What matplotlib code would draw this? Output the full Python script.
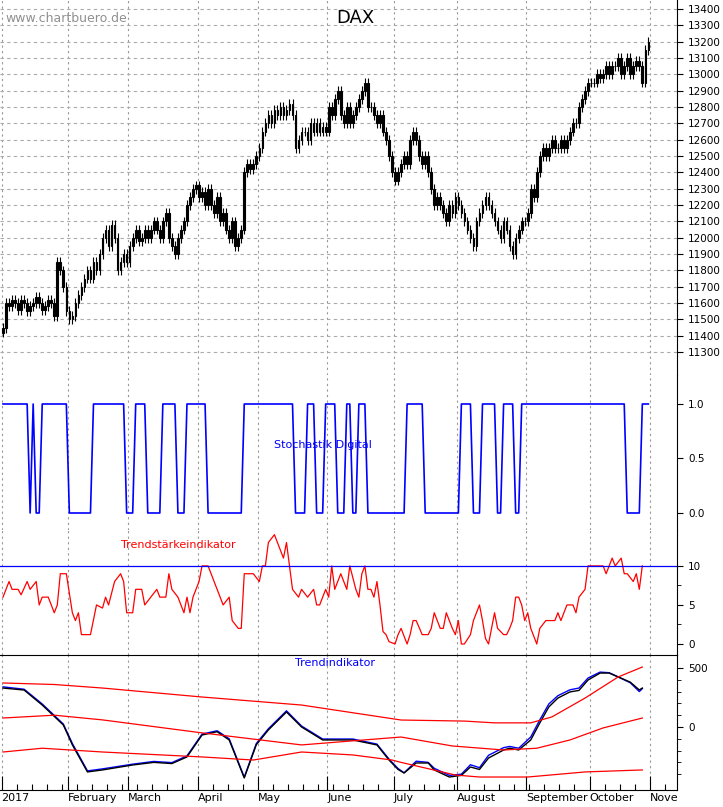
import numpy as np
import pandas as pd
import matplotlib
matplotlib.use('Agg')
import matplotlib.pyplot as plt

# DAX closes per month, 2017
jan = [11450,11600,11580,11620,11600,11560,11620,11600,11550,11580,11600,11640,11600,11560,11580,11620,11600,11520,11850,11800,11700,11550]
feb = [11500,11520,11600,11650,11700,11750,11800,11750,11850,11800,11900,12000,12050,11950,12080,12000,11800,11850,11900,11850]
mar = [11950,12000,12050,11980,12000,12050,12000,12050,12100,12050,12000,12100,12150,12000,11950,11900,12000,12050,12100,12200,12250,12300,12320]
apr = [12250,12280,12200,12300,12200,12150,12250,12100,12150,12050,12000,12100,11950,12000,12050,12400,12450,12420,12450,12500]
may = [12550,12650,12700,12750,12700,12780,12750,12800,12750,12780,12820,12750,12550,12600,12650,12650,12600,12700,12650,12700,12650,12680,12650]
jun = [12800,12750,12850,12900,12750,12700,12800,12700,12750,12800,12850,12900,12950,12800,12800,12750,12700,12750,12650,12600,12500,12400]
jul = [12350,12400,12450,12500,12450,12600,12650,12600,12500,12450,12500,12400,12300,12200,12250,12200,12150,12100,12200,12150,12250]
aug = [12200,12150,12100,12050,12000,11950,12100,12150,12200,12250,12200,12150,12100,12050,12000,12100,12050,11950,11900,12000,12050,12100,12100]
sep = [12150,12300,12250,12400,12500,12550,12500,12550,12600,12550,12550,12600,12550,12600,12650,12700,12700,12800,12850,12900,12950]
oct_ = [12950,12950,13000,12980,13000,13050,13000,13050,13050,13100,13000,13050,13100,13000,13050,13080,13050,12950,13150,13200]
closes = np.array(jan + feb + mar + apr + may + jun + jul + aug + sep + oct_, dtype=float)
dates = pd.bdate_range('2017-01-02', periods=len(closes))
opens = np.concatenate([[11420], closes[:-1]])
wick = 30

# Stochastik Digital: change points (day index, value)
stoch_points = [(0,1),(9,0),(10,1),(11,0),(13,1),(22,0),(30,1),(41,0),(44,1),(48,0),(53,1),(58,0),(61,1),(68,0),(80,1),
                (97,0),(101,1),(104,0),(107,1),(111,0),(114,1),(116,0),(118,1),(121,0),(134,1),(140,0),(152,1),(156,0),
                (159,1),(164,0),(166,1),(170,0),(172,1),(207,0),(212,1)]

# Trendstaerkeindikator (day, value)
ts_points = [(0,6),(2,8),(3,7),(5,7),(6,6.3),(8,8),(9,7),(11,8),(12,5),(13,6),(15,6),(17,4),(18,5),(19,9),(21,9),(23,4),
             (24,3),(25,4),(26,1.2),(29,1.2),(31,5),(33,4.6),(34,6),(35,5),(37,8),(39,9),(40,8),(41,4),(43,4),(44,7),(46,7),
             (47,5),(49,6),(51,7),(52,6),(54,6),(55,9),(56,7),(58,6),(60,4),(61,6),(62,4),(63,6),(65,8),(66,10),(68,10),
             (70,8),(71,7),(73,5),(75,6),(76,3),(78,2),(79,2),(80,9),(83,9),(85,8),(86,10),(87,10),(88,13),(90,14),(93,11),
             (94,13),(95,10),(96,7),(98,6),(99,7),(101,6),(103,7),(104,5),(105,5),(107,7),(108,6),(109,10),
             (110,7),(112,9),(114,7),(115,10),(117,7),(118,6),(119,9),(120,10),(121,7),(122,7),(123,6),(124,8),(125,5),
             (126,1.6),(127,1.2),(128,0.3),(130,0),(131,1.2),(132,2),(134,0),(135,1.2),(136,3),(137,3),(139,1.2),(141,1.2),
             (142,2),(143,4),(145,2),(146,2),(147,4),(149,2),(150,1.2),(151,3),(152,0),(153,0),(155,1.2),(156,3),(158,5),
             (159,3),(160,0.7),(161,0),(162,2),(163,4),(164,2),(166,1.2),(167,1.2),(168,2),(169,3),(170,6),(171,6),(172,5),
             (173,3),(174,4),(175,2),(177,0),(178,2),(180,3),(183,3),(184,4),(185,3),(187,5),(189,5),(190,4),(191,6),
             (193,7),(194,10),(198,10),(199,10),(200,9),(202,11),(203,10),(205,11),(206,9),(207,9),(209,8),(210,9),
             (211,7),(212,10)]

# Trendindikator (day, black, blue)
ti_points = [(0,330,340),(7,313,320),(13,186,195),(20,17,25),(23,-152,-140),(28,-381,-372),(33,-364,-355),(43,-322,-315),
             (50,-300,-292),(56,-310,-302),(61,-254,-245),(66,-68,-60),(71,-40,-32),(75,-110,-100),(80,-432,-425),
             (84,-150,-140),(88,-25,-15),(94,127,137),(99,0,8),(106,-110,-102),(116,-110,-102),(124,-152,-145),
             (128,-280,-272),(131,-360,-352),(133,-390,-388),(137,-305,-290),(141,-305,-300),(143,-364,-350),
             (148,-424,-410),(152,-410,-400),(155,-339,-320),(158,-360,-345),(161,-263,-240),(166,-195,-175),
             (168,-180,-165),(171,-195,-180),(175,-110,-85),(178,34,60),(181,170,195),(184,245,265),(188,297,315),
             (191,310,330),(194,398,415),(198,457,465),(201,457,460),(204,424,424),(208,380,375),(211,314,300),(212,330,325)]
up_band = [(0,373),(17,360),(33,330),(66,254),(99,186),(132,59),(153,50),(163,35),(175,35),(182,85),(193,245),(204,424),(212,508)]
mid_band = [(0,76),(17,100),(33,60),(66,-50),(99,-152),(132,-85),(149,-161),(166,-195),(177,-180),(188,-110),(199,-8),(212,76)]
low_band = [(0,-212),(13,-180),(33,-212),(66,-254),(83,-280),(99,-212),(116,-237),(129,-280),(132,-300),(150,-407),
            (158,-424),(174,-424),(193,-381),(212,-364)]
month_names = ['2017', 'February', 'March', 'April', 'May', 'June', 'July', 'August', 'September', 'October', 'Nove']

W, H = 723, 807
fig = plt.figure(figsize=(W/100, H/100), dpi=100)

def mkax(top, bottom):
    return fig.add_axes([0, 1-bottom/H, 677/W, (bottom-top)/H])

ax1 = mkax(0, 375)
ax2 = mkax(375, 530)
ax3 = mkax(530, 655)
ax4 = mkax(655, 790)

month_starts = [i for i in range(len(dates)) if i == 0 or dates[i].month != dates[i-1].month] + [len(dates)]
week_starts = [i for i in range(len(dates)) if dates[i].weekday() == 0] + [len(dates)+i*5 for i in range(2)]

for ax in (ax1, ax2, ax3, ax4):
    ax.set_xlim(-1, 223.5)
    for s in ('top', 'left', 'bottom'):
        ax.spines[s].set_visible(False)
    ax.spines['right'].set_linewidth(0.8)
    ax.yaxis.tick_right()
    ax.tick_params(axis='y', labelsize=7.5, length=4, width=0.8, pad=4)
    ax.set_xticks([])
    for m in month_starts:
        ax.axvline(m - 0.5, color='#999999', lw=0.8, ls=(0, (2, 3)), zorder=0)

# price panel
ax1.set_ylim(11160, 13455)
ax1.set_yticks(np.arange(11300, 13401, 100))
for v in np.arange(11300, 13401, 100):
    ax1.axhline(v, color='#aaaaaa', lw=0.8, ls=(0, (3, 3)), zorder=0)
x = np.arange(len(closes))
ax1.vlines(x, np.minimum(opens, closes) - wick, np.maximum(opens, closes) + wick, color='black', lw=0.8)
up = closes >= opens
ax1.bar(x[up], (closes - opens)[up], bottom=opens[up], width=0.55, color='white', edgecolor='black', lw=0.8)
ax1.bar(x[~up], (closes - opens)[~up], bottom=opens[~up], width=0.55, color='black', edgecolor='black', lw=0.8)
ax1.text(5/677, 1-18/375, 'www.chartbuero.de', transform=ax1.transAxes, color='#909090', fontsize=9, va='center')
ax1.text(355/677, 1-18/375, 'DAX', transform=ax1.transAxes, color='black', fontsize=13, ha='center', va='center')

# stochastik
sd = np.zeros(len(closes))
for d, v in stoch_points:
    sd[d:] = v
ax2.plot(x, sd, color='blue', lw=1.2)
ax2.set_ylim(-0.156, 1.266)
ax2.set_yticks([0, 0.5, 1.0])
ax2.set_yticklabels(['0.0', '0.5', '1.0'])
ax2.text(323/677, 0.55, 'Stochastik Digital', transform=ax2.transAxes, color='blue', fontsize=8, ha='center', va='center')

# trendstaerke
ts_d, ts_v = zip(*ts_points)
ax3.plot(ts_d, ts_v, color='red', lw=0.9)
ax3.axhline(10, color='blue', lw=0.9)
ax3.set_ylim(-1.41, 14.6)
ax3.set_yticks([0, 5, 10])
ax3.set_yticks([2.5, 7.5], minor=True)
ax3.tick_params(axis='y', which='minor', length=3)
ax3.text(178/677, 1-15/125, 'Trendstärkeindikator', transform=ax3.transAxes, color='red', fontsize=8, ha='center', va='center')

# trendindikator
ti_d, ti_black, ti_blue = zip(*ti_points)
ax4.plot(ti_d, ti_blue, color='blue', lw=1.0)
ax4.plot(ti_d, ti_black, color='black', lw=1.0)
for band in (up_band, mid_band, low_band):
    bd, bv = zip(*band)
    ax4.plot(bd, bv, color='red', lw=0.9)
ax4.set_ylim(-534, 610)
ax4.set_yticks([0, 500])
ax4.set_yticks([-400, -300, -200, -100, 100, 200, 300, 400], minor=True)
ax4.tick_params(axis='y', which='minor', length=3)
ax4.spines['top'].set_visible(True)
ax4.spines['top'].set_linewidth(0.8)
ax4.spines['bottom'].set_visible(True)
ax4.spines['bottom'].set_linewidth(0.8)
ax4.set_xticks([m - 0.5 for m in month_starts])
ax4.set_xticks([w - 0.5 for w in week_starts], minor=True)
ax4.set_xticklabels(month_names, ha='left')
ax4.tick_params(axis='x', which='major', length=10, width=0.8, direction='in', labelsize=8, pad=2)
ax4.tick_params(axis='x', which='minor', length=4, width=0.8, direction='in')
ax4.text(335/677, 1-8/135, 'Trendindikator', transform=ax4.transAxes, color='blue', fontsize=8, ha='center', va='center')

fig.savefig('out.png', dpi=100)
